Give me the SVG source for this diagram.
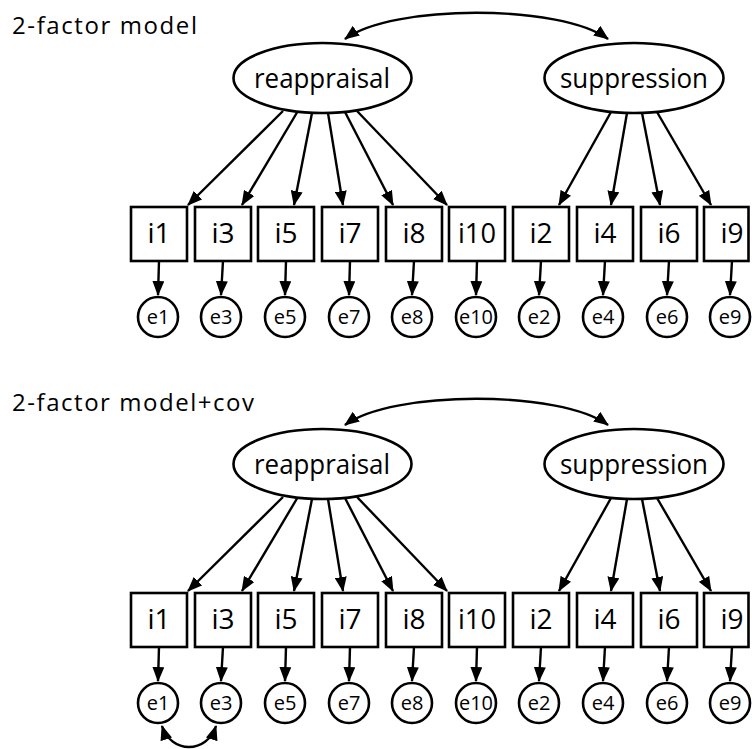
<svg xmlns="http://www.w3.org/2000/svg" width="752" height="749" viewBox="0 0 752 749">
<style>
.bg{fill:#ffffff}
.node{fill:#ffffff;stroke:#000000;stroke-width:2.6}
.edge{fill:none;stroke:#000000;stroke-width:2.4;marker-end:url(#ah)}
.cov{fill:none;stroke:#000000;stroke-width:2.4;marker-start:url(#ahs);marker-end:url(#ah)}
.title{font-family:"Open Sans","Noto Sans",sans-serif;font-size:24px;fill:#000000}
.lat{font-family:"Open Sans","Noto Sans",sans-serif;font-size:28px;fill:#000000;text-anchor:middle}
.item{font-family:"Open Sans","Noto Sans",sans-serif;font-size:28px;fill:#000000;text-anchor:middle}
.err{font-family:"Open Sans","Noto Sans",sans-serif;font-size:20px;fill:#000000;text-anchor:middle}
</style>
<defs>
<marker id="ah" markerUnits="userSpaceOnUse" markerWidth="15" markerHeight="12" refX="14" refY="6" orient="auto">
<path d="M0,0 L15,6 L0,12 z" fill="#000000"/>
</marker>
<marker id="ahs" markerUnits="userSpaceOnUse" markerWidth="15" markerHeight="12" refX="1" refY="6" orient="auto">
<path d="M15,0 L0,6 L15,12 z" fill="#000000"/>
</marker>
</defs>
<rect class="bg" x="0" y="0" width="752" height="749"/>

<!-- ===== Model 1 ===== -->
<g id="model1">
<text id="m1-title" class="title" x="12" y="34" textLength="185" lengthAdjust="spacing">2-factor model</text>
<g id="m1-connectors">
<path class="cov" d="M345,39 C392,4 561,4 608,39"/>
<line class="edge" x1="283" y1="111" x2="188" y2="205"/>
<line class="edge" x1="297" y1="112.5" x2="242" y2="205"/>
<line class="edge" x1="312" y1="113" x2="294" y2="205"/>
<line class="edge" x1="328" y1="113" x2="343" y2="205"/>
<line class="edge" x1="345" y1="112" x2="393" y2="205"/>
<line class="edge" x1="357" y1="111" x2="447" y2="205"/>
<line class="edge" x1="611" y1="112" x2="559" y2="205"/>
<line class="edge" x1="627" y1="113" x2="611" y2="205"/>
<line class="edge" x1="642" y1="113" x2="660" y2="205"/>
<line class="edge" x1="657" y1="112" x2="711" y2="205"/>
<line class="edge" x1="159" y1="261" x2="158" y2="295"/>
<line class="edge" x1="223" y1="261" x2="221" y2="295"/>
<line class="edge" x1="286" y1="261" x2="285" y2="295"/>
<line class="edge" x1="350" y1="261" x2="349" y2="295"/>
<line class="edge" x1="414" y1="261" x2="412" y2="295"/>
<line class="edge" x1="477" y1="261" x2="476" y2="295"/>
<line class="edge" x1="541" y1="261" x2="539" y2="295"/>
<line class="edge" x1="605" y1="261" x2="603" y2="295"/>
<line class="edge" x1="669" y1="261" x2="667" y2="295"/>
<line class="edge" x1="732" y1="261" x2="730" y2="295"/>
</g>
<g id="m1-reappraisal"><ellipse class="node" cx="322.5" cy="78" rx="89" ry="35"/><text class="lat" x="322" y="88" textLength="136" lengthAdjust="spacingAndGlyphs">reappraisal</text></g>
<g id="m1-suppression"><ellipse class="node" cx="634" cy="78" rx="89.5" ry="35"/><text class="lat" x="634" y="88" textLength="148" lengthAdjust="spacingAndGlyphs">suppression</text></g>
<g id="m1-i1"><rect class="node" x="131" y="207" width="56" height="54"/><text class="item" x="159" y="243">i1</text></g>
<g id="m1-i3"><rect class="node" x="195" y="207" width="56" height="54"/><text class="item" x="223" y="243">i3</text></g>
<g id="m1-i5"><rect class="node" x="258" y="207" width="56" height="54"/><text class="item" x="286" y="243">i5</text></g>
<g id="m1-i7"><rect class="node" x="322" y="207" width="56" height="54"/><text class="item" x="350" y="243">i7</text></g>
<g id="m1-i8"><rect class="node" x="386" y="207" width="56" height="54"/><text class="item" x="414" y="243">i8</text></g>
<g id="m1-i10"><rect class="node" x="449" y="207" width="56" height="54"/><text class="item" x="477" y="243" textLength="38" lengthAdjust="spacingAndGlyphs">i10</text></g>
<g id="m1-i2"><rect class="node" x="513" y="207" width="56" height="54"/><text class="item" x="541" y="243">i2</text></g>
<g id="m1-i4"><rect class="node" x="577" y="207" width="56" height="54"/><text class="item" x="605" y="243">i4</text></g>
<g id="m1-i6"><rect class="node" x="641" y="207" width="56" height="54"/><text class="item" x="669" y="243">i6</text></g>
<g id="m1-i9"><rect class="node" x="704" y="207" width="44.5" height="54"/><text class="item" x="732" y="243">i9</text></g>
<g id="m1-e1"><circle class="node" cx="158" cy="317" r="20"/><text class="err" x="158" y="324">e1</text></g>
<g id="m1-e3"><circle class="node" cx="221" cy="317" r="20"/><text class="err" x="221" y="324">e3</text></g>
<g id="m1-e5"><circle class="node" cx="285" cy="317" r="20"/><text class="err" x="285" y="324">e5</text></g>
<g id="m1-e7"><circle class="node" cx="349" cy="317" r="20"/><text class="err" x="349" y="324">e7</text></g>
<g id="m1-e8"><circle class="node" cx="412" cy="317" r="20"/><text class="err" x="412" y="324">e8</text></g>
<g id="m1-e10"><circle class="node" cx="476" cy="317" r="20"/><text class="err" x="476" y="324" textLength="34" lengthAdjust="spacingAndGlyphs">e10</text></g>
<g id="m1-e2"><circle class="node" cx="539" cy="317" r="20"/><text class="err" x="539" y="324">e2</text></g>
<g id="m1-e4"><circle class="node" cx="603" cy="317" r="20"/><text class="err" x="603" y="324">e4</text></g>
<g id="m1-e6"><circle class="node" cx="667" cy="317" r="20"/><text class="err" x="667" y="324">e6</text></g>
<g id="m1-e9"><circle class="node" cx="730" cy="317" r="20"/><text class="err" x="730" y="324">e9</text></g>
</g>

<!-- ===== Model 2 ===== -->
<text id="m2-title" class="title" x="12" y="411" textLength="242" lengthAdjust="spacing">2-factor model+cov</text>
<g id="model2" transform="translate(0,386)">
<g id="m2-connectors">
<path class="cov" d="M345,39 C392,4 561,4 608,39"/>
<line class="edge" x1="283" y1="111" x2="188" y2="205"/>
<line class="edge" x1="297" y1="112.5" x2="242" y2="205"/>
<line class="edge" x1="312" y1="113" x2="294" y2="205"/>
<line class="edge" x1="328" y1="113" x2="343" y2="205"/>
<line class="edge" x1="345" y1="112" x2="393" y2="205"/>
<line class="edge" x1="357" y1="111" x2="447" y2="205"/>
<line class="edge" x1="611" y1="112" x2="559" y2="205"/>
<line class="edge" x1="627" y1="113" x2="611" y2="205"/>
<line class="edge" x1="642" y1="113" x2="660" y2="205"/>
<line class="edge" x1="657" y1="112" x2="711" y2="205"/>
<line class="edge" x1="159" y1="261" x2="158" y2="295"/>
<line class="edge" x1="223" y1="261" x2="221" y2="295"/>
<line class="edge" x1="286" y1="261" x2="285" y2="295"/>
<line class="edge" x1="350" y1="261" x2="349" y2="295"/>
<line class="edge" x1="414" y1="261" x2="412" y2="295"/>
<line class="edge" x1="477" y1="261" x2="476" y2="295"/>
<line class="edge" x1="541" y1="261" x2="539" y2="295"/>
<line class="edge" x1="605" y1="261" x2="603" y2="295"/>
<line class="edge" x1="669" y1="261" x2="667" y2="295"/>
<line class="edge" x1="732" y1="261" x2="730" y2="295"/>
<path class="cov" d="M162,340 C171,368 207,368 216,340"/>
</g>
<g id="m2-reappraisal"><ellipse class="node" cx="322.5" cy="78" rx="89" ry="35"/><text class="lat" x="322" y="88" textLength="136" lengthAdjust="spacingAndGlyphs">reappraisal</text></g>
<g id="m2-suppression"><ellipse class="node" cx="634" cy="78" rx="89.5" ry="35"/><text class="lat" x="634" y="88" textLength="148" lengthAdjust="spacingAndGlyphs">suppression</text></g>
<g id="m2-i1"><rect class="node" x="131" y="207" width="56" height="54"/><text class="item" x="159" y="243">i1</text></g>
<g id="m2-i3"><rect class="node" x="195" y="207" width="56" height="54"/><text class="item" x="223" y="243">i3</text></g>
<g id="m2-i5"><rect class="node" x="258" y="207" width="56" height="54"/><text class="item" x="286" y="243">i5</text></g>
<g id="m2-i7"><rect class="node" x="322" y="207" width="56" height="54"/><text class="item" x="350" y="243">i7</text></g>
<g id="m2-i8"><rect class="node" x="386" y="207" width="56" height="54"/><text class="item" x="414" y="243">i8</text></g>
<g id="m2-i10"><rect class="node" x="449" y="207" width="56" height="54"/><text class="item" x="477" y="243" textLength="38" lengthAdjust="spacingAndGlyphs">i10</text></g>
<g id="m2-i2"><rect class="node" x="513" y="207" width="56" height="54"/><text class="item" x="541" y="243">i2</text></g>
<g id="m2-i4"><rect class="node" x="577" y="207" width="56" height="54"/><text class="item" x="605" y="243">i4</text></g>
<g id="m2-i6"><rect class="node" x="641" y="207" width="56" height="54"/><text class="item" x="669" y="243">i6</text></g>
<g id="m2-i9"><rect class="node" x="704" y="207" width="44.5" height="54"/><text class="item" x="732" y="243">i9</text></g>
<g id="m2-e1"><circle class="node" cx="158" cy="317" r="20"/><text class="err" x="158" y="324">e1</text></g>
<g id="m2-e3"><circle class="node" cx="221" cy="317" r="20"/><text class="err" x="221" y="324">e3</text></g>
<g id="m2-e5"><circle class="node" cx="285" cy="317" r="20"/><text class="err" x="285" y="324">e5</text></g>
<g id="m2-e7"><circle class="node" cx="349" cy="317" r="20"/><text class="err" x="349" y="324">e7</text></g>
<g id="m2-e8"><circle class="node" cx="412" cy="317" r="20"/><text class="err" x="412" y="324">e8</text></g>
<g id="m2-e10"><circle class="node" cx="476" cy="317" r="20"/><text class="err" x="476" y="324" textLength="34" lengthAdjust="spacingAndGlyphs">e10</text></g>
<g id="m2-e2"><circle class="node" cx="539" cy="317" r="20"/><text class="err" x="539" y="324">e2</text></g>
<g id="m2-e4"><circle class="node" cx="603" cy="317" r="20"/><text class="err" x="603" y="324">e4</text></g>
<g id="m2-e6"><circle class="node" cx="667" cy="317" r="20"/><text class="err" x="667" y="324">e6</text></g>
<g id="m2-e9"><circle class="node" cx="730" cy="317" r="20"/><text class="err" x="730" y="324">e9</text></g>
</g>
</svg>
